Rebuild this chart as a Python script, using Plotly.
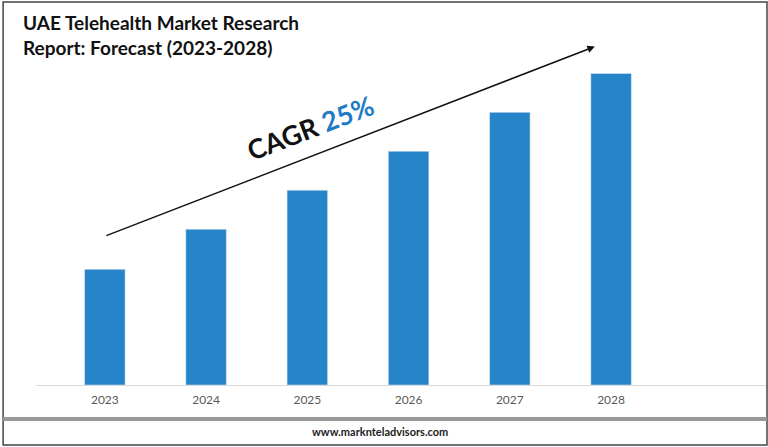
import plotly.graph_objects as go

years = ["2023", "2024", "2025", "2026", "2027", "2028"]
values = [2.97, 4.0, 5.0, 6.0, 7.0, 8.0]

fig = go.Figure(go.Bar(x=years, y=values, marker_color="#2684c9", width=0.4))

fig.update_layout(
    width=768, height=447, paper_bgcolor="white", plot_bgcolor="white",
    margin=dict(l=36, r=1, t=14.5, b=62), showlegend=False,
    font=dict(family="Lato", color="#555"),
    xaxis=dict(range=[-0.68, 6.54], showline=True, linecolor="#d9d9d9", linewidth=1,
               ticks="", ticklabelstandoff=4, tickfont=dict(size=12, color="#595959")),
    yaxis=dict(range=[0, 9.5], visible=False),
)

# title
fig.add_annotation(xref="paper", yref="paper", x=-0.02, y=1.015, xanchor="left", yanchor="top",
                   text="<b>UAE Telehealth Market Research<br>Report: Forecast (2023-2028)</b>",
                   showarrow=False, align="left", font=dict(size=19, color="#111", family="Lato"))

# arrow
fig.add_annotation(x=4.84, y=8.69, ax=0, ay=3.82, xref="x", yref="y", axref="x", ayref="y",
                   text="", showarrow=True, arrowhead=2, arrowsize=1, arrowwidth=1.5, arrowcolor="#111")
fig.add_annotation(x=2.03, y=6.6, xref="x", yref="y", showarrow=False, textangle=-21,
                   text="<b>CAGR <span style='color:#1f7bc4'>25%</span></b>",
                   font=dict(size=27, color="#111", family="Lato"))

# footer
fig.add_annotation(xref="paper", yref="paper", x=0.47, y=-0.127, yanchor="middle", showarrow=False,
                   text="<b>www.marknteladvisors.com</b>", font=dict(size=11, color="#222"))

# frame and separator
fig.add_shape(type="rect", xref="paper", yref="paper", x0=-0.045, x1=1.0, y0=-0.162, y1=1.035,
              line=dict(color="#444", width=1.5))
fig.add_shape(type="line", xref="paper", yref="paper", x0=-0.045, x1=1.0, y0=-0.092, y1=-0.092,
              line=dict(color="#999", width=4))

fig.write_html("out.html", config={"displayModeBar": False},
               post_script="document.body.style.margin='0';")
